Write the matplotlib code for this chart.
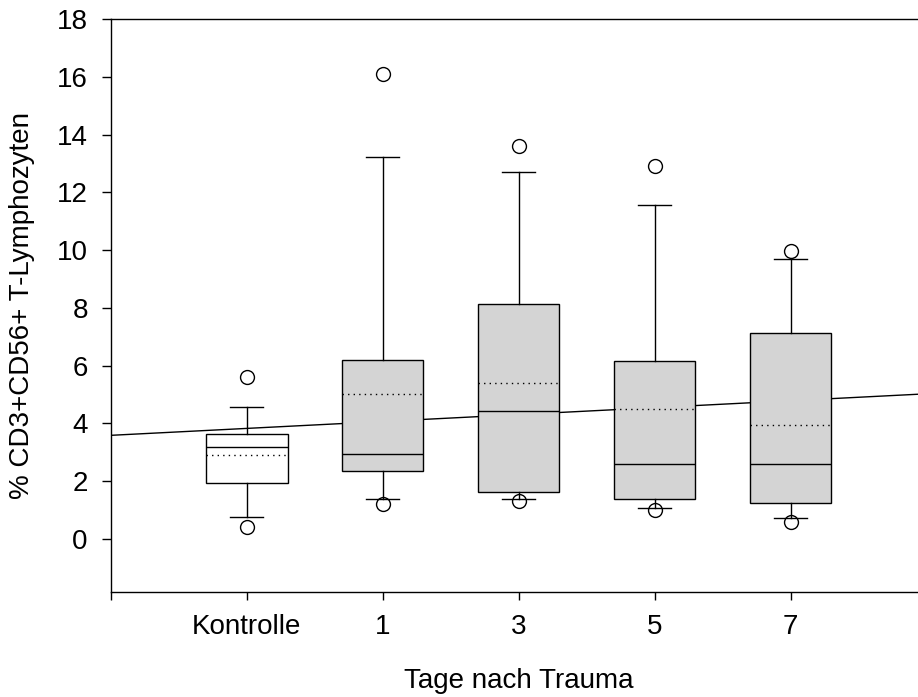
import matplotlib
matplotlib.use("Agg")
import matplotlib.pyplot as plt
import numpy as np

plt.rcParams['font.family'] = ['Liberation Sans', 'DejaVu Sans']

# Groups and summary statistics (%)
groups = ["Kontrolle", "1", "3", "5", "7"]
q1 = [1.92, 2.35, 1.61, 1.39, 1.25]
median = [3.19, 2.95, 4.44, 2.60, 2.59]
q3 = [3.64, 6.19, 8.14, 6.15, 7.12]
mean = [2.89, 5.02, 5.41, 4.50, 3.93]
whisker_low = [0.76, 1.38, 1.37, 1.05, 0.73]
whisker_high = [4.57, 13.24, 12.70, 11.57, 9.68]
outliers = [[0.39, 5.59], [1.19, 16.10], [1.31, 13.61], [0.99, 12.91], [0.59, 9.98]]
box_colors = ["white", "#d4d4d4", "#d4d4d4", "#d4d4d4", "#d4d4d4"]

# Linear regression over the groups
reg_intercept = 3.58
reg_slope = 0.24

fig = plt.figure(figsize=(9.18, 6.97), dpi=100)
ax = fig.add_axes([110.7 / 918, 105 / 697, 816 / 918, 572.7 / 697])

positions = np.arange(1, len(groups) + 1)
stats = []
for i in range(len(groups)):
    stats.append(dict(med=median[i], q1=q1[i], q3=q3[i], mean=mean[i],
                      whislo=whisker_low[i], whishi=whisker_high[i],
                      fliers=outliers[i]))

lw = 1.0
bp = ax.bxp(stats, positions=positions, widths=0.6, patch_artist=True,
            showmeans=True, meanline=True, capwidths=0.245,
            boxprops=dict(linewidth=lw, edgecolor="black"),
            medianprops=dict(color="black", linewidth=lw),
            meanprops=dict(color="black", linewidth=1.0, linestyle=(0, (1, 3))),
            whiskerprops=dict(color="black", linewidth=lw),
            capprops=dict(color="black", linewidth=lw),
            flierprops=dict(marker="o", markersize=10, markerfacecolor="none",
                            markeredgecolor="black", markeredgewidth=1.0))
for patch, c in zip(bp["boxes"], box_colors):
    patch.set_facecolor(c)
    patch.set_zorder(3)
for key in ["medians", "means", "whiskers", "caps", "fliers"]:
    for art in bp[key]:
        art.set_zorder(4)

xs = np.array([0, 6])
ax.plot(xs, reg_intercept + reg_slope * xs, color="black", linewidth=1.0, zorder=2)

ax.set_xlim(0, 6)
ax.set_ylim(-1.85, 18)
ax.set_yticks(np.arange(0, 19, 2))
ax.set_xticks(np.arange(0, 7))
ax.set_xticklabels([""] + groups + [""])

ax.spines["right"].set_visible(False)
for s in ["left", "top", "bottom"]:
    ax.spines[s].set_linewidth(1.0)

fs = 20
ax.tick_params(axis="y", direction="out", length=6.5, width=1.0, labelsize=fs, pad=10)
ax.tick_params(axis="x", direction="out", length=5.5, width=1.0, labelsize=fs, pad=10)

ax.set_ylabel("% CD3+CD56+ T-Lymphozyten", fontsize=fs)
ax.set_xlabel("Tage nach Trauma", fontsize=fs)
ax.yaxis.set_label_coords(-0.093, 0.5)
ax.xaxis.set_label_coords(0.5, -0.132)

fig.savefig("out.png", dpi=100)
